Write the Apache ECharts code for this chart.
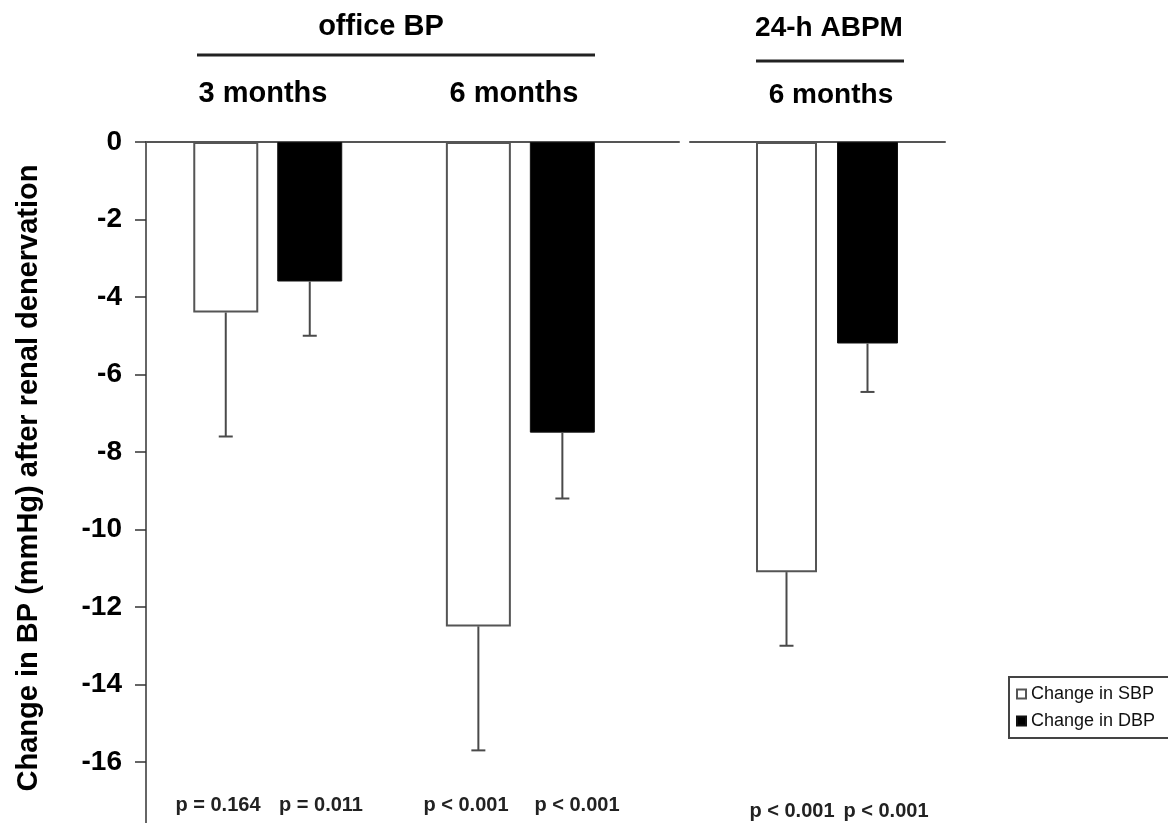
<!DOCTYPE html>
<html>
<head>
<meta charset="utf-8">
<script src="https://cdn.jsdelivr.net/npm/echarts@6/dist/echarts.min.js"></script>
<style>
  html, body { margin: 0; padding: 0; background: #fff; }
  #chart { width: 1168px; height: 823px; }
</style>
</head>
<body>
<div id="chart"></div>
<script>
// Change in blood pressure after renal denervation:
// office BP at 3 and 6 months, 24-h ABPM at 6 months (mean, one-sided error bar)
const officeGroups = ['3 months', '6 months'];
const officeSBP = [-4.4, -12.5];
const officeDBP = [-3.6, -7.5];
const officeSBPErr = [3.2, 3.2];
const officeDBPErr = [1.4, 1.7];
const officePValues = ['p = 0.164', 'p = 0.011', 'p < 0.001', 'p < 0.001'];

const abpmGroups = ['6 months'];
const abpmSBP = [-11.1];
const abpmDBP = [-5.2];
const abpmSBPErr = [1.9];
const abpmDBPErr = [1.25];
const abpmPValues = ['p < 0.001', 'p < 0.001'];

const seriesNames = ['Change in SBP', 'Change in DBP'];
const yMin = -18, yMax = 0, yStep = 2;
const yTitle = 'Change in BP (mmHg) after renal denervation';

const FONT = '"Liberation Sans", Arial, Helvetica, sans-serif';
const BAR = {
  office: { width: 65, gapPx: 19 },
  abpm: { width: 61, gapPx: 20 }
};

const chart = echarts.init(document.getElementById('chart'), null, { renderer: 'canvas' });

function barSeries(name, values, idx, dark, layout) {
  return {
    type: 'bar',
    name: name,
    xAxisIndex: idx,
    yAxisIndex: idx,
    data: values.map((v, i) => [i, v]),
    barWidth: layout.width,
    barGap: (layout.gapPx / layout.width * 100).toFixed(1) + '%',
    itemStyle: dark
      ? { color: '#000', borderColor: '#111', borderWidth: 1 }
      : { color: '#fff', borderColor: '#555', borderWidth: 2 },
    emphasis: { disabled: true },
    z: 2
  };
}

// Whiskers drawn below each bar, offset to the bar's slot within its group
function errorSeries(sbp, sbpErr, dbp, dbpErr, idx, layout) {
  const data = [];
  sbp.forEach((v, i) => data.push([i, v, sbpErr[i], -1]));
  dbp.forEach((v, i) => data.push([i, v, dbpErr[i], 1]));
  return {
    type: 'custom',
    xAxisIndex: idx,
    yAxisIndex: idx,
    data: data,
    z: 3,
    silent: true,
    encode: { x: 0, y: 1 },
    renderItem: function (params, api) {
      const shift = api.value(3) * (layout.width + layout.gapPx) / 2;
      const top = api.coord([api.value(0), api.value(1)]);
      const end = api.coord([api.value(0), api.value(1) - api.value(2)]);
      const x = top[0] + shift;
      const cap = 7;
      const style = { stroke: '#4a4a4a', lineWidth: 2 };
      return {
        type: 'group',
        children: [
          { type: 'line', shape: { x1: x, y1: top[1], x2: x, y2: end[1] }, style: style },
          { type: 'line', shape: { x1: x - cap, y1: end[1], x2: x + cap, y2: end[1] }, style: style }
        ]
      };
    }
  };
}

function label(text, x, y, size, weight, color) {
  return {
    type: 'text', x: x, y: y, silent: true,
    style: {
      text: text, fontSize: size, fontWeight: weight, fontFamily: FONT,
      fill: color, textAlign: 'center', textVerticalAlign: 'middle',
      align: 'center', verticalAlign: 'middle'
    }
  };
}
function rule(x1, x2, y, w) {
  return { type: 'line', silent: true, shape: { x1: x1, y1: y, x2: x2, y2: y }, style: { stroke: '#222', lineWidth: w } };
}

const xAxisBase = {
  type: 'value',
  position: 'top',
  axisLine: { show: true, onZero: false, lineStyle: { color: '#555', width: 2 } },
  axisTick: { show: false },
  axisLabel: { show: false },
  splitLine: { show: false }
};

const graphics = [
  label('office BP', 381, 27, 29, 'bold', '#000'),
  rule(197, 595, 55, 3),
  label(officeGroups[0], 263, 94, 29, 'bold', '#000'),
  label(officeGroups[1], 514, 94, 29, 'bold', '#000'),
  label('24-h ABPM', 829, 28, 28, 'bold', '#000'),
  rule(756, 904, 61, 3),
  label(abpmGroups[0], 831, 95, 28, 'bold', '#000'),
  label(officePValues[0], 218, 805, 20, 'bold', '#222'),
  label(officePValues[1], 321, 805, 20, 'bold', '#222'),
  label(officePValues[2], 466, 805, 20, 'bold', '#222'),
  label(officePValues[3], 577, 805, 20, 'bold', '#222'),
  label(abpmPValues[0], 792, 811, 20, 'bold', '#222'),
  label(abpmPValues[1], 886, 811, 20, 'bold', '#222'),
  Object.assign(label(yTitle, 29, 478, 29, 'bold', '#000'), { rotation: Math.PI / 2 })
];

chart.setOption({
  backgroundColor: '#fff',
  animation: false,
  textStyle: { fontFamily: FONT },
  grid: [
    { left: 146, top: 142, width: 533, height: 697.5, outerBoundsMode: 'none', containLabel: false },
    { left: 690, top: 142, width: 255, height: 697.5, outerBoundsMode: 'none', containLabel: false }
  ],
  xAxis: [
    Object.assign({ gridIndex: 0, min: -0.482, max: 1.628 }, xAxisBase),
    Object.assign({ gridIndex: 1, min: -0.5415, max: 0.4664 }, xAxisBase)
  ],
  yAxis: [
    {
      gridIndex: 0, type: 'value', min: yMin, max: yMax, interval: yStep,
      axisLine: { show: true, onZero: false, lineStyle: { color: '#333', width: 1.5 } },
      axisTick: { show: true, inside: false, length: 11, lineStyle: { color: '#333', width: 1.5 } },
      axisLabel: { fontSize: 28, fontWeight: 'bold', color: '#000', margin: 24, showMinLabel: false, fontFamily: FONT },
      splitLine: { show: false }
    },
    { gridIndex: 1, type: 'value', min: yMin, max: yMax, interval: yStep, show: false, splitLine: { show: false } }
  ],
  legend: {
    data: seriesNames,
    orient: 'vertical',
    left: 1009,
    top: 677,
    icon: 'rect',
    itemWidth: 9,
    itemHeight: 9,
    itemGap: 9,
    padding: [8, 30, 8, 7],
    borderColor: '#444',
    borderWidth: 2,
    borderRadius: 0,
    selectedMode: false,
    textStyle: { fontSize: 18, color: '#111', fontFamily: FONT }
  },
  series: [
    barSeries(seriesNames[0], officeSBP, 0, false, BAR.office),
    barSeries(seriesNames[1], officeDBP, 0, true, BAR.office),
    barSeries(seriesNames[0], abpmSBP, 1, false, BAR.abpm),
    barSeries(seriesNames[1], abpmDBP, 1, true, BAR.abpm),
    errorSeries(officeSBP, officeSBPErr, officeDBP, officeDBPErr, 0, BAR.office),
    errorSeries(abpmSBP, abpmSBPErr, abpmDBP, abpmDBPErr, 1, BAR.abpm)
  ],
  graphic: graphics
});
</script>
</body>
</html>
